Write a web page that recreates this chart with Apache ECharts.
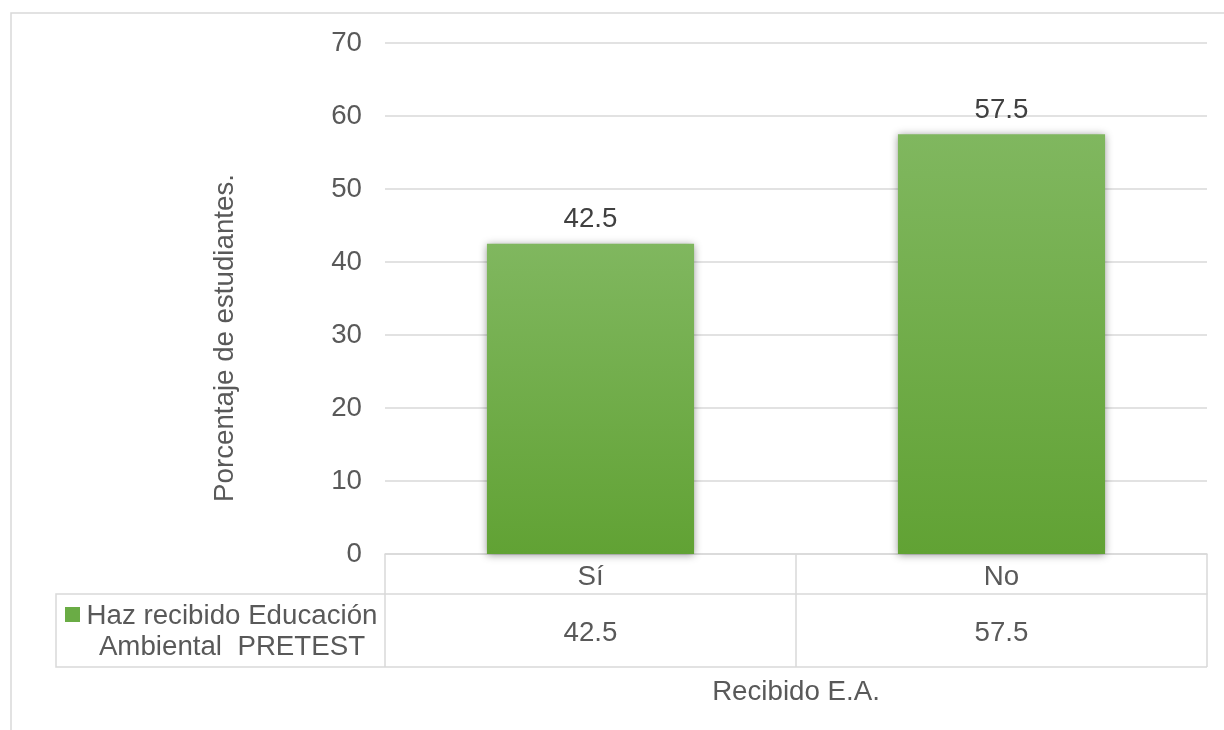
<!DOCTYPE html>
<html>
<head>
<meta charset="utf-8">
<script src="https://cdn.jsdelivr.net/npm/echarts@6/dist/echarts.min.js"></script>
<style>
  html, body { margin: 0; padding: 0; background: #ffffff; }
  #chart { width: 1224px; height: 730px; }
</style>
</head>
<body>
<div id="chart"></div>
<script>
// Categories and values of the survey question
const categories = ['Sí', 'No'];
const values = [42.5, 57.5];
const seriesName = 'Haz recibido Educación\nAmbiental  PRETEST';
const yTicks = { min: 0, max: 70, interval: 10 };
const xTitle = 'Recibido E.A.';
const yTitle = 'Porcentaje de estudiantes.';

const FONT = '"Liberation Sans", Arial, sans-serif';
const FS = 27.7;
const GRID_COLOR = '#d9d9d9';
const TEXT = '#595959';

const chart = echarts.init(document.getElementById('chart'), null, { renderer: 'canvas' });

const grid = { left: 385, right: 17, top: 43, bottom: 176 };
const plotBottom = 730 - grid.bottom;     // y of the category axis
const rowDivider = plotBottom + 40;       // line between category row and value row
const tableBottom = rowDivider + 73;      // bottom line of the data table
const tableLeft = 56;

const option = {
  backgroundColor: '#ffffff',
  animation: false,
  textStyle: { fontFamily: FONT },
  grid: grid,
  xAxis: [
    {
      type: 'category',
      data: categories,
      position: 'bottom',
      axisLine: { show: true, lineStyle: { color: GRID_COLOR, width: 1.5 } },
      axisTick: { show: true, length: 40, lineStyle: { color: GRID_COLOR, width: 1.5 } },
      axisLabel: { margin: 9, fontSize: FS, color: TEXT, fontFamily: FONT },
      name: xTitle,
      nameLocation: 'middle',
      nameGap: 124,
      nameTextStyle: { fontSize: FS, color: TEXT, fontFamily: FONT }
    },
    {
      // value row of the data table
      type: 'category',
      data: categories,
      position: 'bottom',
      offset: 40,
      axisLine: { show: true, lineStyle: { color: GRID_COLOR, width: 1.5 } },
      axisTick: { show: true, length: 73, lineStyle: { color: GRID_COLOR, width: 1.5 } },
      axisLabel: {
        margin: 25, fontSize: FS, color: TEXT, fontFamily: FONT,
        formatter: (v, i) => String(values[i])
      }
    }
  ],
  yAxis: {
    type: 'value',
    min: yTicks.min,
    max: yTicks.max,
    interval: yTicks.interval,
    axisLine: { show: false },
    axisTick: { show: false },
    axisLabel: { margin: 23, fontSize: FS, color: TEXT, fontFamily: FONT },
    splitLine: { show: true, lineStyle: { color: GRID_COLOR, width: 1.5 } }
  },
  series: [
    {
      name: seriesName,
      type: 'bar',
      xAxisIndex: 0,
      data: values,
      barWidth: '50.4%',
      itemStyle: {
        color: new echarts.graphic.LinearGradient(0, 0, 0, 1, [
          { offset: 0, color: '#80b75f' },
          { offset: 1, color: '#61a234' }
        ]),
        shadowBlur: 8,
        shadowColor: 'rgba(0,0,0,0.4)',
        shadowOffsetX: 0,
        shadowOffsetY: 1
      },
      label: {
        show: true,
        position: 'top',
        distance: 10,
        fontSize: FS,
        color: '#404040',
        fontFamily: FONT
      }
    }
  ],
  graphic: [
    // outer chart frame
    {
      type: 'rect', silent: true,
      shape: { x: 11, y: 13, width: 1240, height: 760 },
      style: { fill: null, stroke: GRID_COLOR, lineWidth: 1.5 }
    },
    // legend cell of the data table
    {
      type: 'polyline', silent: true,
      shape: { points: [[grid.left, rowDivider], [tableLeft, rowDivider], [tableLeft, tableBottom], [1224 - grid.right, tableBottom]] },
      style: { fill: null, stroke: GRID_COLOR, lineWidth: 1.5 }
    },
    {
      type: 'rect', silent: true,
      shape: { x: 65, y: 607, width: 15, height: 15 },
      style: { fill: '#6aac45' }
    },
    {
      type: 'text', silent: true,
      x: 232, y: 632,
      style: {
        text: seriesName,
        fontSize: FS, lineHeight: 31, fontFamily: FONT,
        fill: TEXT, align: 'center', verticalAlign: 'middle'
      }
    },
    // y axis title
    {
      type: 'text', silent: true,
      x: 225, y: 338, rotation: Math.PI / 2,
      style: {
        text: yTitle,
        fontSize: FS, fontFamily: FONT,
        fill: TEXT, align: 'center', verticalAlign: 'middle'
      }
    }
  ]
};

chart.setOption(option);
</script>
</body>
</html>
